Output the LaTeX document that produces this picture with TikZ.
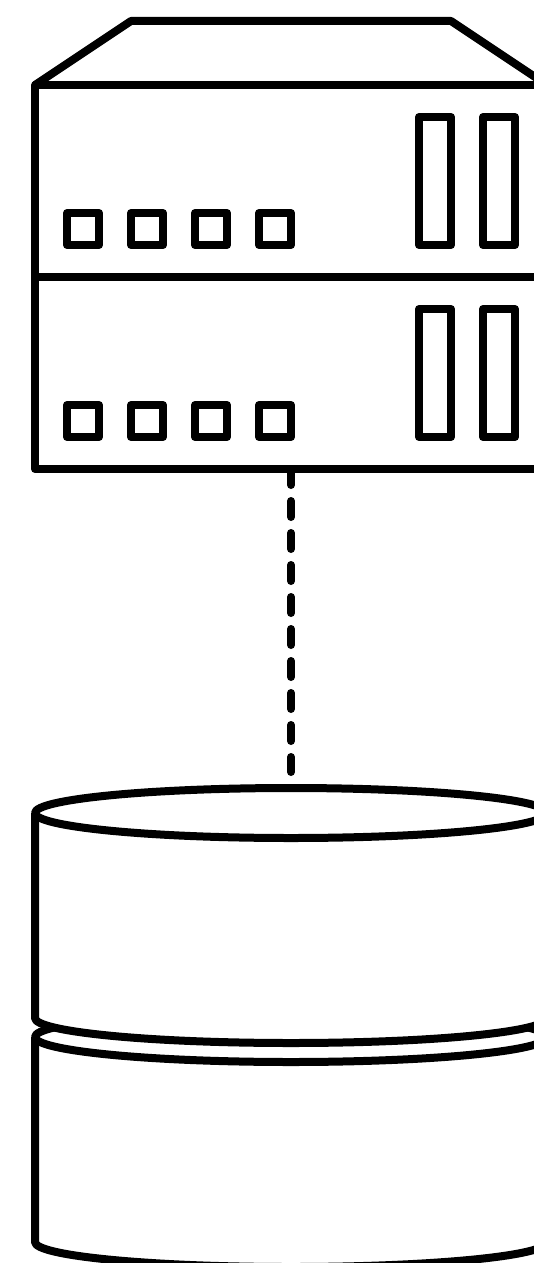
\documentclass[tikz,border=0pt]{standalone}
\usepackage{tikz}
\usetikzlibrary{shapes.geometric}

\begin{document}
\begin{tikzpicture}[x=1pt, y=-1pt,
            wire/.style={draw=black, line width=8pt, line join=round},
            unit/.style={rectangle, wire, outer sep=0pt, inner sep=0pt,
                         minimum width=512pt, minimum height=192pt},
            port/.style={rectangle, wire, outer sep=0pt, inner sep=0pt,
                         minimum width=32pt, minimum height=32pt},
            slot/.style={rectangle, wire, outer sep=0pt, inner sep=0pt,
                         minimum width=32pt, minimum height=128pt},
            disk/.style={ellipse, wire, fill=white, outer sep=0pt, inner sep=0pt,
                         minimum width=512pt, minimum height=50pt}]
        \useasboundingbox (0,0) rectangle (534,1263);
        \clip (0,0) rectangle (534,1263);
        % server
        \coordinate (roofL) at (35,85);
        \coordinate (roofA) at (131,21);
        \coordinate (roofB) at (451,21);
        \coordinate (roofR) at (547,85);
        \draw[wire] (roofL)--(roofA)--(roofB)--(roofR);
        \node[unit] (unit1) at (291,181) {};
        \node[unit] (unit2) at (291,373) {};
        \node[port] (p11) at (83,229)  {};
        \node[port] (p12) at (147,229) {};
        \node[port] (p13) at (211,229) {};
        \node[port] (p14) at (275,229) {};
        \node[slot] (s11) at (435,181) {};
        \node[slot] (s12) at (499,181) {};
        \node[port] (p21) at (83,421)  {};
        \node[port] (p22) at (147,421) {};
        \node[port] (p23) at (211,421) {};
        \node[port] (p24) at (275,421) {};
        \node[slot] (s21) at (435,373) {};
        \node[slot] (s22) at (499,373) {};
        % database, lower disk first
        \draw[wire, fill=white] (35,1037) -- (35,1242)
              arc[start angle=180, end angle=0, x radius=256, y radius=25] -- (547,1037);
        \node[disk] (disk2) at (291,1037) {};
        \draw[wire, fill=white] (35,813) -- (35,1018)
              arc[start angle=180, end angle=0, x radius=256, y radius=25] -- (547,813);
        \node[disk] (disk1) at (291,813) {};
        % link
        \coordinate (linkEnd) at (291,772);
        \draw[line width=8pt, line cap=round, dash pattern=on 16pt off 16pt] (unit2.south)--(linkEnd);
\end{tikzpicture}
\end{document}
